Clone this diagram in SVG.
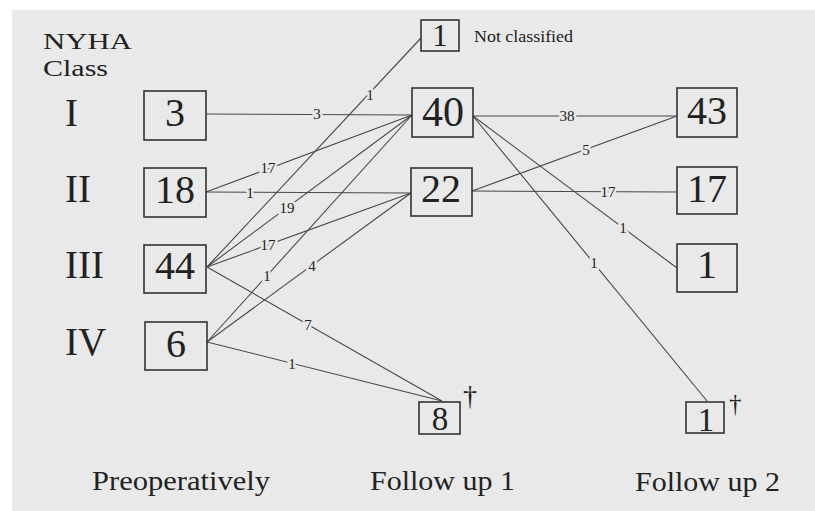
<svg xmlns="http://www.w3.org/2000/svg" width="815" height="511" viewBox="0 0 815 511">
  <style>
    text { font-family: "Liberation Serif", "DejaVu Serif", serif; fill: #222222; }
    .box { fill: none; stroke: #333333; stroke-width: 1.6; }
    .num { text-anchor: middle; }
    .big { font-size: 40px; }
    .roman { font-size: 39px; }
    .head { font-size: 24px; }
    .foot { font-size: 27px; }
    .edge { stroke: #484848; stroke-width: 1.1; fill: none; }
    .lbl { font-size: 15px; text-anchor: middle; paint-order: stroke; stroke: #e9e9e9; stroke-width: 5px; stroke-linejoin: round; }
  </style>

  <!-- page -->
  <rect x="0" y="0" width="815" height="511" fill="#ffffff"/>
  <rect x="12" y="10" width="803" height="501" fill="#e9e9e9"/>

  <!-- headings -->
  <text class="head" x="43" y="49" textLength="89" lengthAdjust="spacingAndGlyphs">NYHA</text>
  <text class="head" x="43" y="76" font-size="23" textLength="65" lengthAdjust="spacingAndGlyphs">Class</text>
  <text class="roman" x="65" y="126">I</text>
  <text class="roman" x="65" y="202">II</text>
  <text class="roman" x="65" y="278">III</text>
  <text class="roman" x="65" y="355">IV</text>
  <text class="foot" x="92" y="490" textLength="178" lengthAdjust="spacingAndGlyphs">Preoperatively</text>
  <text class="foot" x="370" y="490" textLength="145" lengthAdjust="spacingAndGlyphs">Follow up 1</text>
  <text class="foot" x="635" y="491" textLength="145" lengthAdjust="spacingAndGlyphs">Follow up 2</text>

  <!-- connectors -->
  <g id="connectors">
    <line class="edge" x1="206" y1="114" x2="412" y2="115"/>
    <line class="edge" x1="206" y1="192" x2="412" y2="115"/>
    <line class="edge" x1="206" y1="192" x2="411" y2="193"/>
    <line class="edge" x1="207" y1="267" x2="421" y2="38"/>
    <line class="edge" x1="207" y1="267" x2="412" y2="115"/>
    <line class="edge" x1="207" y1="267" x2="411" y2="193"/>
    <line class="edge" x1="207" y1="267" x2="442" y2="401"/>
    <line class="edge" x1="207" y1="342" x2="412" y2="115"/>
    <line class="edge" x1="207" y1="342" x2="411" y2="193"/>
    <line class="edge" x1="207" y1="342" x2="442" y2="401"/>
    <line class="edge" x1="473" y1="116" x2="677" y2="116"/>
    <line class="edge" x1="473" y1="116" x2="677" y2="268"/>
    <line class="edge" x1="473" y1="116" x2="707" y2="401"/>
    <line class="edge" x1="472" y1="191" x2="677" y2="116"/>
    <line class="edge" x1="472" y1="191" x2="677" y2="192"/>

    <text class="lbl" x="317" y="119">3</text>
    <text class="lbl" x="268" y="173">17</text>
    <text class="lbl" x="250" y="198">1</text>
    <text class="lbl" x="370" y="100">1</text>
    <text class="lbl" x="287" y="213">19</text>
    <text class="lbl" x="268" y="250">17</text>
    <text class="lbl" x="308" y="330">7</text>
    <text class="lbl" x="267" y="281">1</text>
    <text class="lbl" x="312" y="271">4</text>
    <text class="lbl" x="292" y="369">1</text>
    <text class="lbl" x="567" y="121">38</text>
    <text class="lbl" x="623" y="233">1</text>
    <text class="lbl" x="594" y="268">1</text>
    <text class="lbl" x="586" y="155">5</text>
    <text class="lbl" x="608" y="197">17</text>
  </g>

  <!-- preoperative classes -->
  <g id="pre-I">
    <rect class="box" x="144" y="91" width="62" height="49"/>
    <text class="num big" x="175" y="126">3</text>
  </g>
  <g id="pre-II">
    <rect class="box" x="144" y="168" width="62" height="49"/>
    <text class="num big" x="175" y="203">18</text>
  </g>
  <g id="pre-III">
    <rect class="box" x="144" y="245" width="62" height="48"/>
    <text class="num big" x="175" y="279">44</text>
  </g>
  <g id="pre-IV">
    <rect class="box" x="145" y="322" width="62" height="48"/>
    <text class="num big" x="176" y="357">6</text>
  </g>

  <!-- follow up 1 -->
  <g id="fu1-nc">
    <rect class="box" x="421" y="20" width="38" height="31"/>
    <text class="num" x="440" y="46" font-size="31">1</text>
    <text x="474" y="42" font-size="16" textLength="99" lengthAdjust="spacingAndGlyphs">Not classified</text>
  </g>
  <g id="fu1-I">
    <rect class="box" x="412" y="88" width="61" height="49"/>
    <text class="num" x="443" y="126" font-size="42">40</text>
  </g>
  <g id="fu1-II">
    <rect class="box" x="411" y="168" width="61" height="48"/>
    <text class="num big" x="441" y="202">22</text>
  </g>
  <g id="fu1-dead">
    <rect class="box" x="419" y="402" width="41" height="32"/>
    <text class="num" x="440" y="430" font-size="33">8</text>
    <text x="463" y="405" font-size="28">†</text>
  </g>

  <!-- follow up 2 -->
  <g id="fu2-I">
    <rect class="box" x="677" y="88" width="60" height="49"/>
    <text class="num big" x="707" y="124">43</text>
  </g>
  <g id="fu2-II">
    <rect class="box" x="677" y="167" width="60" height="47"/>
    <text class="num big" x="707" y="202">17</text>
  </g>
  <g id="fu2-III">
    <rect class="box" x="677" y="244" width="60" height="48"/>
    <text class="num big" x="707" y="278">1</text>
  </g>
  <g id="fu2-dead">
    <rect class="box" x="686" y="402" width="38" height="31"/>
    <text class="num" x="706" y="431" font-size="33">1</text>
    <text x="729" y="412" font-size="25">†</text>
  </g>
</svg>
